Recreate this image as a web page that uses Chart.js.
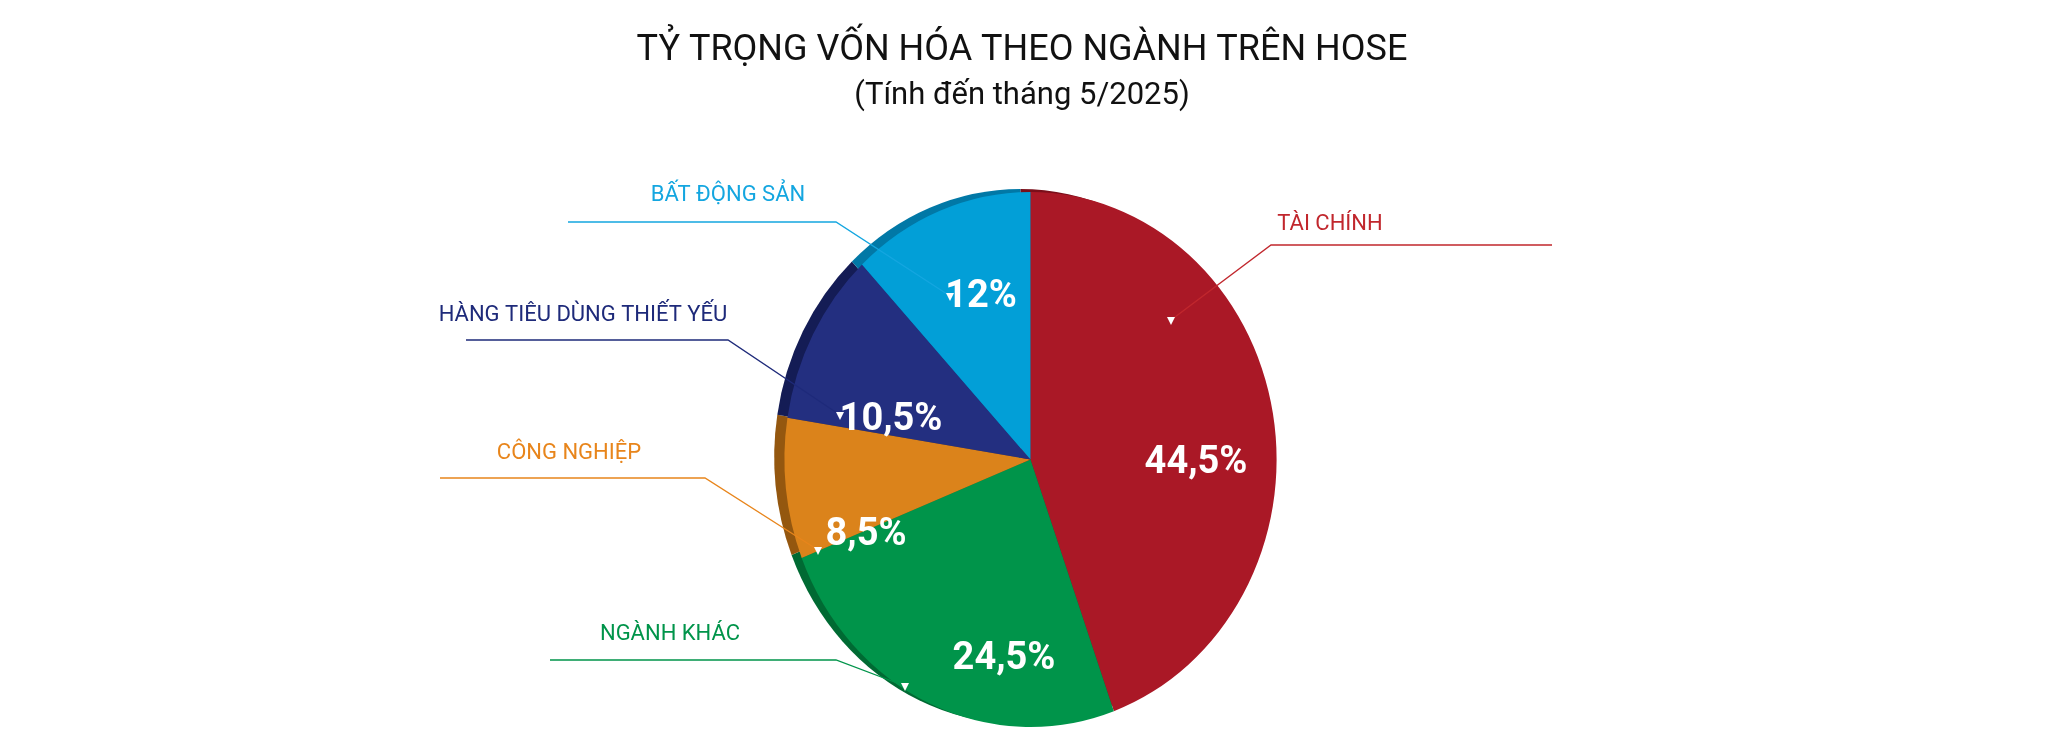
<!DOCTYPE html>
<html><head><meta charset="utf-8">
<script src="https://cdn.jsdelivr.net/npm/chart.js@4"></script>
<style>html,body{margin:0;padding:0;background:#fff}#wrap{width:2045px;height:739px}</style>
</head><body><div id="wrap"><canvas id="c" width="2045" height="739"></canvas></div>
<script>
const categories = ["TÀI CHÍNH","NGÀNH KHÁC","CÔNG NGHIỆP","HÀNG TIÊU DÙNG THIẾT YẾU","BẤT ĐỘNG SẢN"];
const values = [44.5, 24.5, 8.5, 10.5, 12];
const valueLabels = ["44,5%","24,5%","8,5%","10,5%","12%"];
const colors = ["#AA1826","#00944A","#DB831B","#232F80","#029FD7"];
const darkColors = ["#7A0F1A","#006A33","#94570F","#141C55","#0178A6"];
const labelColors = ["#C1272D","#00944A","#E8851B","#1E2A7A","#14A6E0"];
const titleText = "TỶ TRỌNG VỐN HÓA THEO NGÀNH TRÊN HOSE";
const subtitleText = "(Tính đến tháng 5/2025)";
const leaders = [
  {a:[1171,320], e:[1271,245], f:[1552,245], t:[1330,224]},
  {a:[905,686], e:[836,660], f:[550,660], t:[670,634]},
  {a:[818,550], e:[705,478], f:[440,478], t:[569,453]},
  {a:[840,415], e:[728,340], f:[466,340], t:[583,315]},
  {a:[950,296], e:[836,222], f:[568,222], t:[728,195]}
];
const pctPos = [[1196,463],[1004,659],[866,535],[891,420],[981,297]];
const SX = 0.92;

const deco = {
  id:'deco',
  beforeDatasetsDraw(chart){
    const ctx=chart.ctx, meta=chart.getDatasetMeta(0);
    const cx=meta.data[0].x;
    ctx.save();
    ctx.translate(cx,0);ctx.scale(SX,1);ctx.translate(-cx,0);
    meta.data.forEach((arc,i)=>{
      const p=arc.getProps(['x','y','startAngle','endAngle','outerRadius']);
      ctx.beginPath();ctx.moveTo(p.x-11,p.y-3);
      ctx.arc(p.x-11,p.y-3,p.outerRadius,p.startAngle,p.endAngle);
      ctx.closePath();ctx.fillStyle=darkColors[i];ctx.fill();
    });
  },
  afterDatasetsDraw(chart){ chart.ctx.restore(); },
  afterDraw(chart){
    const ctx=chart.ctx;
    ctx.save();
    ctx.textAlign='center';ctx.textBaseline='middle';ctx.fillStyle='#111';
    ctx.font='36px Roboto';ctx.fillText(titleText,1022,51);
    ctx.font='31px Roboto';ctx.fillText(subtitleText,1022,96);
    leaders.forEach((l,i)=>{
      ctx.strokeStyle=labelColors[i];ctx.lineWidth=1.3;
      ctx.beginPath();ctx.moveTo(l.a[0],l.a[1]);ctx.lineTo(l.e[0],l.e[1]);ctx.lineTo(l.f[0],l.f[1]);ctx.stroke();
      ctx.fillStyle='#fff';ctx.beginPath();
      ctx.moveTo(l.a[0]-4,l.a[1]-3);ctx.lineTo(l.a[0]+4,l.a[1]-3);ctx.lineTo(l.a[0],l.a[1]+5);ctx.closePath();ctx.fill();
      ctx.fillStyle=labelColors[i];ctx.font='22px Roboto';
      ctx.fillText(categories[i],l.t[0],l.t[1]);
    });
    ctx.fillStyle='#fff';ctx.font='bold 38px Roboto';
    valueLabels.forEach((v,i)=>ctx.fillText(v,pctPos[i][0],pctPos[i][1]));
    ctx.restore();
  }
};

new Chart(document.getElementById('c'),{
  type:'pie',
  data:{labels:categories,datasets:[{data:values,backgroundColor:colors,borderWidth:0}]},
  options:{responsive:false,animation:false,
    layout:{padding:{top:192,bottom:12,left:16,right:0}},
    plugins:{legend:{display:false},tooltip:{enabled:false}}},
  plugins:[deco]
});
</script></body></html>
